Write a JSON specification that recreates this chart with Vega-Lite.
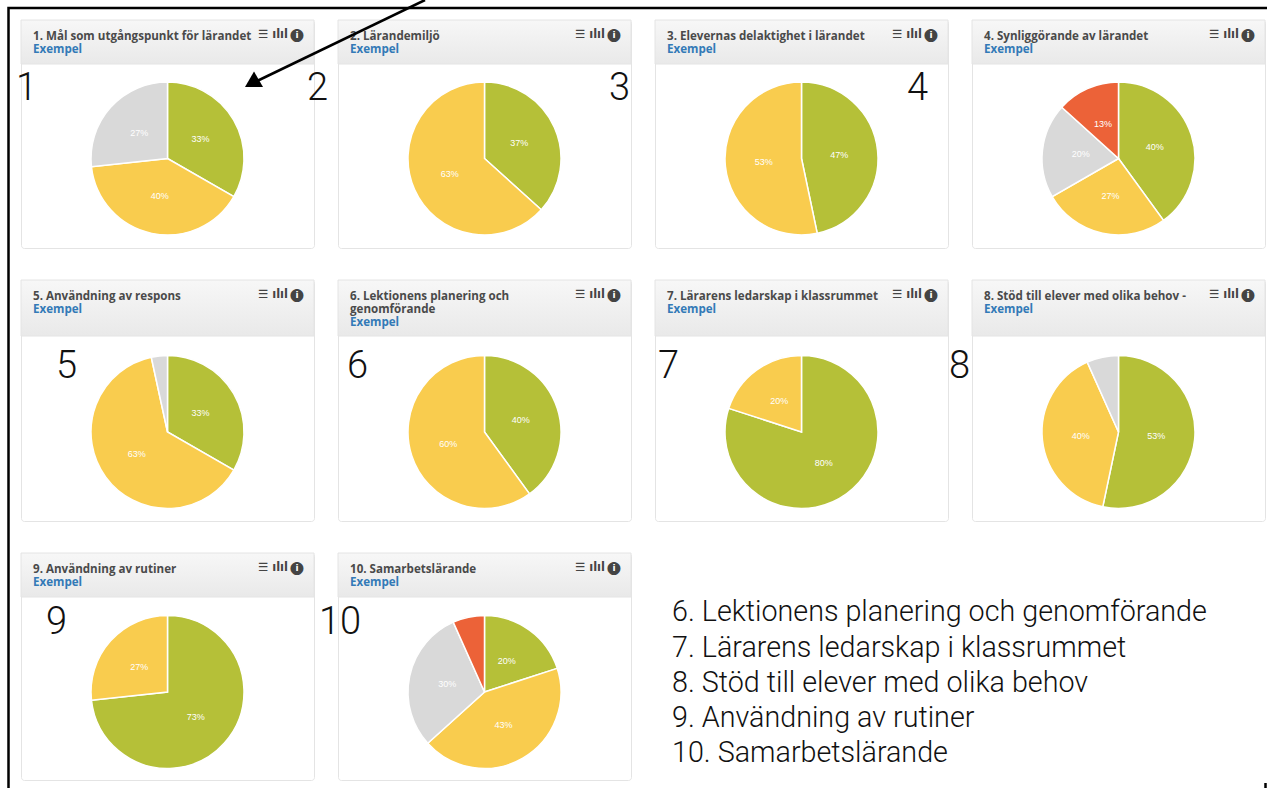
{
"$schema":"https://vega.github.io/schema/vega-lite/v6.json",
"padding":{"left":3,"top":-5,"right":0,"bottom":0},
"background":"white",
"config":{"view":{"stroke":"#e4e4e4","cornerRadius":3,"fill":"white"}},
"datasets":{
"pie":[
{"panel":1,"c":"1-grön","v":33.3,"l":"33%"},{"panel":1,"c":"2-gul","v":40,"l":"40%"},{"panel":1,"c":"3-grå","v":26.7,"l":"27%"},
{"panel":2,"c":"1-grön","v":36.7,"l":"37%"},{"panel":2,"c":"2-gul","v":63.3,"l":"63%"},
{"panel":3,"c":"1-grön","v":46.7,"l":"47%"},{"panel":3,"c":"2-gul","v":53.3,"l":"53%"},
{"panel":4,"c":"1-grön","v":40,"l":"40%"},{"panel":4,"c":"2-gul","v":26.7,"l":"27%"},{"panel":4,"c":"3-grå","v":20,"l":"20%"},{"panel":4,"c":"4-röd","v":13.3,"l":"13%"},
{"panel":5,"c":"1-grön","v":33.3,"l":"33%"},{"panel":5,"c":"2-gul","v":63.3,"l":"63%"},{"panel":5,"c":"3-grå","v":3.4,"l":""},
{"panel":6,"c":"1-grön","v":40,"l":"40%"},{"panel":6,"c":"2-gul","v":60,"l":"60%"},
{"panel":7,"c":"1-grön","v":80,"l":"80%"},{"panel":7,"c":"2-gul","v":20,"l":"20%"},
{"panel":8,"c":"1-grön","v":53.3,"l":"53%"},{"panel":8,"c":"2-gul","v":40,"l":"40%"},{"panel":8,"c":"3-grå","v":6.7,"l":""},
{"panel":9,"c":"1-grön","v":73.3,"l":"73%"},{"panel":9,"c":"2-gul","v":26.7,"l":"27%"},
{"panel":10,"c":"1-grön","v":20,"l":"20%"},{"panel":10,"c":"2-gul","v":43.3,"l":"43%"},{"panel":10,"c":"3-grå","v":30,"l":"30%"},{"panel":10,"c":"4-röd","v":6.7,"l":""}
],
"headers":[
{"panel":1,"line":1.2,"kind":"t","text":"1. Mål som utgångspunkt för lärandet"},{"panel":1,"line":2.2,"kind":"x","text":"Exempel"},
{"panel":2,"line":1.2,"kind":"t","text":"2. Lärandemiljö"},{"panel":2,"line":2.2,"kind":"x","text":"Exempel"},
{"panel":3,"line":1.2,"kind":"t","text":"3. Elevernas delaktighet i lärandet"},{"panel":3,"line":2.2,"kind":"x","text":"Exempel"},
{"panel":4,"line":1.2,"kind":"t","text":"4. Synliggörande av lärandet"},{"panel":4,"line":2.2,"kind":"x","text":"Exempel"},
{"panel":5,"line":1.2,"kind":"t","text":"5. Användning av respons"},{"panel":5,"line":2.2,"kind":"x","text":"Exempel"},
{"panel":6,"line":1.2,"kind":"t","text":"6. Lektionens planering och"},{"panel":6,"line":2.2,"kind":"t","text":"genomförande"},{"panel":6,"line":3.2,"kind":"x","text":"Exempel"},
{"panel":7,"line":1.2,"kind":"t","text":"7. Lärarens ledarskap i klassrummet"},{"panel":7,"line":2.2,"kind":"x","text":"Exempel"},
{"panel":8,"line":1.2,"kind":"t","text":"8. Stöd till elever med olika behov -"},{"panel":8,"line":2.2,"kind":"x","text":"Exempel"},
{"panel":9,"line":1.2,"kind":"t","text":"9. Användning av rutiner"},{"panel":9,"line":2.2,"kind":"x","text":"Exempel"},
{"panel":10,"line":1.2,"kind":"t","text":"10. Samarbetslärande"},{"panel":10,"line":2.2,"kind":"x","text":"Exempel"}
]
},
"columns":4,
"spacing":{"row":32,"column":24},
"bounds":"flush",
"align":"none",
"concat":[
{"width":293,"height":228,"layer":[
{"data":{"values":[{}]},"mark":{"type":"rect","stroke":"#e4e4e4","fill":{"gradient":"linear","x1":0,"y1":0,"x2":0,"y2":1,"stops":[{"offset":0,"color":"#f7f7f7"},{"offset":1,"color":"#e9e9e9"}]}},"encoding":{"x":{"datum":0,"type":"quantitative","scale":{"domain":[0,293]},"axis":null},"x2":{"datum":293},"y":{"datum":-0.077,"type":"quantitative","scale":{"domain":[17.462,-0.077]},"axis":null},"y2":{"datum":3.308}}},
{"data":{"name":"pie"},"transform":[{"filter":"datum.panel==1"}],"encoding":{"theta":{"field":"v","type":"quantitative","stack":true},"order":{"field":"c"},"detail":{"field":"c"},"color":{"field":"c","type":"nominal","scale":{"domain":["1-grön","2-gul","3-grå","4-röd","t","x"],"range":["#b5c038","#f9cc4e","#d9d9d9","#ec6238","#4a4a4a","#337ab7"]},"legend":null},"y":{"datum":10.577,"type":"quantitative","scale":{"domain":[17.462,-0.077]},"axis":null}},"layer":[
{"mark":{"type":"arc","outerRadius":76.5,"stroke":"white","strokeWidth":1.5}},
{"mark":{"type":"text","radius":38,"fontSize":9,"font":"Liberation Sans"},"encoding":{"text":{"field":"l"},"color":{"value":"white"}}}
]},
{"data":{"name":"headers"},"transform":[{"filter":"datum.panel==1"}],"mark":{"type":"text","align":"left","font":"Open Sans","fontWeight":"bold","fontSize":11.6},"encoding":{"x":{"datum":12,"type":"quantitative","scale":{"domain":[0,293]},"axis":null},"y":{"field":"line","type":"quantitative","scale":{"domain":[17.462,-0.077]},"axis":null},"text":{"field":"text"},"color":{"field":"kind","scale":{"domain":["1-grön","2-gul","3-grå","4-röd","t","x"],"range":["#b5c038","#f9cc4e","#d9d9d9","#ec6238","#4a4a4a","#337ab7"]},"legend":null}}},
{"data":{"values":[{"a":"☰ ılıl","b":"●","c":"i"}]},"encoding":{"y":{"datum":1.05,"type":"quantitative","scale":{"domain":[17.462,-0.077]},"axis":null}},"layer":[
{"mark":{"type":"text","align":"right","font":"DejaVu Sans","fontWeight":"bold","fontSize":11.5,"color":"#444444"},"encoding":{"x":{"datum":267,"type":"quantitative","scale":{"domain":[0,293]},"axis":null},"text":{"field":"a"}}},
{"mark":{"type":"text","align":"center","font":"DejaVu Sans","fontSize":17,"color":"#444444"},"encoding":{"x":{"datum":276,"type":"quantitative","scale":{"domain":[0,293]},"axis":null},"text":{"field":"b"}}},
{"mark":{"type":"text","align":"center","font":"DejaVu Sans","fontWeight":"bold","fontSize":9,"color":"white"},"encoding":{"x":{"datum":276,"type":"quantitative","scale":{"domain":[0,293]},"axis":null},"text":{"field":"c"}}}
]},
{"data":{"values":[{"n":"1"}]},"mark":{"type":"text","align":"left","baseline":"alphabetic","font":"Roboto","fontWeight":300,"fontSize":38,"color":"#111"},"encoding":{"text":{"field":"n"},"x":{"datum":-5,"type":"quantitative","scale":{"domain":[0,293]},"axis":null},"y":{"datum":6.077,"type":"quantitative","scale":{"domain":[17.462,-0.077]},"axis":null}}}
]},
{"width":293,"height":228,"layer":[
{"data":{"values":[{}]},"mark":{"type":"rect","stroke":"#e4e4e4","fill":{"gradient":"linear","x1":0,"y1":0,"x2":0,"y2":1,"stops":[{"offset":0,"color":"#f7f7f7"},{"offset":1,"color":"#e9e9e9"}]}},"encoding":{"x":{"datum":0,"type":"quantitative","scale":{"domain":[0,293]},"axis":null},"x2":{"datum":293},"y":{"datum":-0.077,"type":"quantitative","scale":{"domain":[17.462,-0.077]},"axis":null},"y2":{"datum":3.308}}},
{"data":{"name":"pie"},"transform":[{"filter":"datum.panel==2"}],"encoding":{"theta":{"field":"v","type":"quantitative","stack":true},"order":{"field":"c"},"detail":{"field":"c"},"color":{"field":"c","type":"nominal","scale":{"domain":["1-grön","2-gul","3-grå","4-röd","t","x"],"range":["#b5c038","#f9cc4e","#d9d9d9","#ec6238","#4a4a4a","#337ab7"]},"legend":null},"y":{"datum":10.577,"type":"quantitative","scale":{"domain":[17.462,-0.077]},"axis":null}},"layer":[
{"mark":{"type":"arc","outerRadius":76.5,"stroke":"white","strokeWidth":1.5}},
{"mark":{"type":"text","radius":38,"fontSize":9,"font":"Liberation Sans"},"encoding":{"text":{"field":"l"},"color":{"value":"white"}}}
]},
{"data":{"name":"headers"},"transform":[{"filter":"datum.panel==2"}],"mark":{"type":"text","align":"left","font":"Open Sans","fontWeight":"bold","fontSize":11.6},"encoding":{"x":{"datum":12,"type":"quantitative","scale":{"domain":[0,293]},"axis":null},"y":{"field":"line","type":"quantitative","scale":{"domain":[17.462,-0.077]},"axis":null},"text":{"field":"text"},"color":{"field":"kind","scale":{"domain":["1-grön","2-gul","3-grå","4-röd","t","x"],"range":["#b5c038","#f9cc4e","#d9d9d9","#ec6238","#4a4a4a","#337ab7"]},"legend":null}}},
{"data":{"values":[{"a":"☰ ılıl","b":"●","c":"i"}]},"encoding":{"y":{"datum":1.05,"type":"quantitative","scale":{"domain":[17.462,-0.077]},"axis":null}},"layer":[
{"mark":{"type":"text","align":"right","font":"DejaVu Sans","fontWeight":"bold","fontSize":11.5,"color":"#444444"},"encoding":{"x":{"datum":267,"type":"quantitative","scale":{"domain":[0,293]},"axis":null},"text":{"field":"a"}}},
{"mark":{"type":"text","align":"center","font":"DejaVu Sans","fontSize":17,"color":"#444444"},"encoding":{"x":{"datum":276,"type":"quantitative","scale":{"domain":[0,293]},"axis":null},"text":{"field":"b"}}},
{"mark":{"type":"text","align":"center","font":"DejaVu Sans","fontWeight":"bold","fontSize":9,"color":"white"},"encoding":{"x":{"datum":276,"type":"quantitative","scale":{"domain":[0,293]},"axis":null},"text":{"field":"c"}}}
]},
{"data":{"values":[{"n":"2"}]},"mark":{"type":"text","align":"left","baseline":"alphabetic","font":"Roboto","fontWeight":300,"fontSize":38,"color":"#111"},"encoding":{"text":{"field":"n"},"x":{"datum":-31,"type":"quantitative","scale":{"domain":[0,293]},"axis":null},"y":{"datum":6.077,"type":"quantitative","scale":{"domain":[17.462,-0.077]},"axis":null}}}
]},
{"width":293,"height":228,"layer":[
{"data":{"values":[{}]},"mark":{"type":"rect","stroke":"#e4e4e4","fill":{"gradient":"linear","x1":0,"y1":0,"x2":0,"y2":1,"stops":[{"offset":0,"color":"#f7f7f7"},{"offset":1,"color":"#e9e9e9"}]}},"encoding":{"x":{"datum":0,"type":"quantitative","scale":{"domain":[0,293]},"axis":null},"x2":{"datum":293},"y":{"datum":-0.077,"type":"quantitative","scale":{"domain":[17.462,-0.077]},"axis":null},"y2":{"datum":3.308}}},
{"data":{"name":"pie"},"transform":[{"filter":"datum.panel==3"}],"encoding":{"theta":{"field":"v","type":"quantitative","stack":true},"order":{"field":"c"},"detail":{"field":"c"},"color":{"field":"c","type":"nominal","scale":{"domain":["1-grön","2-gul","3-grå","4-röd","t","x"],"range":["#b5c038","#f9cc4e","#d9d9d9","#ec6238","#4a4a4a","#337ab7"]},"legend":null},"y":{"datum":10.577,"type":"quantitative","scale":{"domain":[17.462,-0.077]},"axis":null}},"layer":[
{"mark":{"type":"arc","outerRadius":76.5,"stroke":"white","strokeWidth":1.5}},
{"mark":{"type":"text","radius":38,"fontSize":9,"font":"Liberation Sans"},"encoding":{"text":{"field":"l"},"color":{"value":"white"}}}
]},
{"data":{"name":"headers"},"transform":[{"filter":"datum.panel==3"}],"mark":{"type":"text","align":"left","font":"Open Sans","fontWeight":"bold","fontSize":11.6},"encoding":{"x":{"datum":12,"type":"quantitative","scale":{"domain":[0,293]},"axis":null},"y":{"field":"line","type":"quantitative","scale":{"domain":[17.462,-0.077]},"axis":null},"text":{"field":"text"},"color":{"field":"kind","scale":{"domain":["1-grön","2-gul","3-grå","4-röd","t","x"],"range":["#b5c038","#f9cc4e","#d9d9d9","#ec6238","#4a4a4a","#337ab7"]},"legend":null}}},
{"data":{"values":[{"a":"☰ ılıl","b":"●","c":"i"}]},"encoding":{"y":{"datum":1.05,"type":"quantitative","scale":{"domain":[17.462,-0.077]},"axis":null}},"layer":[
{"mark":{"type":"text","align":"right","font":"DejaVu Sans","fontWeight":"bold","fontSize":11.5,"color":"#444444"},"encoding":{"x":{"datum":267,"type":"quantitative","scale":{"domain":[0,293]},"axis":null},"text":{"field":"a"}}},
{"mark":{"type":"text","align":"center","font":"DejaVu Sans","fontSize":17,"color":"#444444"},"encoding":{"x":{"datum":276,"type":"quantitative","scale":{"domain":[0,293]},"axis":null},"text":{"field":"b"}}},
{"mark":{"type":"text","align":"center","font":"DejaVu Sans","fontWeight":"bold","fontSize":9,"color":"white"},"encoding":{"x":{"datum":276,"type":"quantitative","scale":{"domain":[0,293]},"axis":null},"text":{"field":"c"}}}
]},
{"data":{"values":[{"n":"3"}]},"mark":{"type":"text","align":"left","baseline":"alphabetic","font":"Roboto","fontWeight":300,"fontSize":38,"color":"#111"},"encoding":{"text":{"field":"n"},"x":{"datum":-46,"type":"quantitative","scale":{"domain":[0,293]},"axis":null},"y":{"datum":6.077,"type":"quantitative","scale":{"domain":[17.462,-0.077]},"axis":null}}}
]},
{"width":293,"height":228,"layer":[
{"data":{"values":[{}]},"mark":{"type":"rect","stroke":"#e4e4e4","fill":{"gradient":"linear","x1":0,"y1":0,"x2":0,"y2":1,"stops":[{"offset":0,"color":"#f7f7f7"},{"offset":1,"color":"#e9e9e9"}]}},"encoding":{"x":{"datum":0,"type":"quantitative","scale":{"domain":[0,293]},"axis":null},"x2":{"datum":293},"y":{"datum":-0.077,"type":"quantitative","scale":{"domain":[17.462,-0.077]},"axis":null},"y2":{"datum":3.308}}},
{"data":{"name":"pie"},"transform":[{"filter":"datum.panel==4"}],"encoding":{"theta":{"field":"v","type":"quantitative","stack":true},"order":{"field":"c"},"detail":{"field":"c"},"color":{"field":"c","type":"nominal","scale":{"domain":["1-grön","2-gul","3-grå","4-röd","t","x"],"range":["#b5c038","#f9cc4e","#d9d9d9","#ec6238","#4a4a4a","#337ab7"]},"legend":null},"y":{"datum":10.577,"type":"quantitative","scale":{"domain":[17.462,-0.077]},"axis":null}},"layer":[
{"mark":{"type":"arc","outerRadius":76.5,"stroke":"white","strokeWidth":1.5}},
{"mark":{"type":"text","radius":38,"fontSize":9,"font":"Liberation Sans"},"encoding":{"text":{"field":"l"},"color":{"value":"white"}}}
]},
{"data":{"name":"headers"},"transform":[{"filter":"datum.panel==4"}],"mark":{"type":"text","align":"left","font":"Open Sans","fontWeight":"bold","fontSize":11.6},"encoding":{"x":{"datum":12,"type":"quantitative","scale":{"domain":[0,293]},"axis":null},"y":{"field":"line","type":"quantitative","scale":{"domain":[17.462,-0.077]},"axis":null},"text":{"field":"text"},"color":{"field":"kind","scale":{"domain":["1-grön","2-gul","3-grå","4-röd","t","x"],"range":["#b5c038","#f9cc4e","#d9d9d9","#ec6238","#4a4a4a","#337ab7"]},"legend":null}}},
{"data":{"values":[{"a":"☰ ılıl","b":"●","c":"i"}]},"encoding":{"y":{"datum":1.05,"type":"quantitative","scale":{"domain":[17.462,-0.077]},"axis":null}},"layer":[
{"mark":{"type":"text","align":"right","font":"DejaVu Sans","fontWeight":"bold","fontSize":11.5,"color":"#444444"},"encoding":{"x":{"datum":267,"type":"quantitative","scale":{"domain":[0,293]},"axis":null},"text":{"field":"a"}}},
{"mark":{"type":"text","align":"center","font":"DejaVu Sans","fontSize":17,"color":"#444444"},"encoding":{"x":{"datum":276,"type":"quantitative","scale":{"domain":[0,293]},"axis":null},"text":{"field":"b"}}},
{"mark":{"type":"text","align":"center","font":"DejaVu Sans","fontWeight":"bold","fontSize":9,"color":"white"},"encoding":{"x":{"datum":276,"type":"quantitative","scale":{"domain":[0,293]},"axis":null},"text":{"field":"c"}}}
]},
{"data":{"values":[{"n":"4"}]},"mark":{"type":"text","align":"left","baseline":"alphabetic","font":"Roboto","fontWeight":300,"fontSize":38,"color":"#111"},"encoding":{"text":{"field":"n"},"x":{"datum":-65,"type":"quantitative","scale":{"domain":[0,293]},"axis":null},"y":{"datum":6.077,"type":"quantitative","scale":{"domain":[17.462,-0.077]},"axis":null}}}
]},
{"width":293,"height":241,"layer":[
{"data":{"values":[{}]},"mark":{"type":"rect","stroke":"#e4e4e4","fill":{"gradient":"linear","x1":0,"y1":0,"x2":0,"y2":1,"stops":[{"offset":0,"color":"#f7f7f7"},{"offset":1,"color":"#e9e9e9"}]}},"encoding":{"x":{"datum":0,"type":"quantitative","scale":{"domain":[0,293]},"axis":null},"x2":{"datum":293},"y":{"datum":-0.077,"type":"quantitative","scale":{"domain":[18.462,-0.077]},"axis":null},"y2":{"datum":4.231}}},
{"data":{"name":"pie"},"transform":[{"filter":"datum.panel==5"}],"encoding":{"theta":{"field":"v","type":"quantitative","stack":true},"order":{"field":"c"},"detail":{"field":"c"},"color":{"field":"c","type":"nominal","scale":{"domain":["1-grön","2-gul","3-grå","4-röd","t","x"],"range":["#b5c038","#f9cc4e","#d9d9d9","#ec6238","#4a4a4a","#337ab7"]},"legend":null},"y":{"datum":11.615,"type":"quantitative","scale":{"domain":[18.462,-0.077]},"axis":null}},"layer":[
{"mark":{"type":"arc","outerRadius":76.5,"stroke":"white","strokeWidth":1.5}},
{"mark":{"type":"text","radius":38,"fontSize":9,"font":"Liberation Sans"},"encoding":{"text":{"field":"l"},"color":{"value":"white"}}}
]},
{"data":{"name":"headers"},"transform":[{"filter":"datum.panel==5"}],"mark":{"type":"text","align":"left","font":"Open Sans","fontWeight":"bold","fontSize":11.6},"encoding":{"x":{"datum":12,"type":"quantitative","scale":{"domain":[0,293]},"axis":null},"y":{"field":"line","type":"quantitative","scale":{"domain":[18.462,-0.077]},"axis":null},"text":{"field":"text"},"color":{"field":"kind","scale":{"domain":["1-grön","2-gul","3-grå","4-röd","t","x"],"range":["#b5c038","#f9cc4e","#d9d9d9","#ec6238","#4a4a4a","#337ab7"]},"legend":null}}},
{"data":{"values":[{"a":"☰ ılıl","b":"●","c":"i"}]},"encoding":{"y":{"datum":1.05,"type":"quantitative","scale":{"domain":[18.462,-0.077]},"axis":null}},"layer":[
{"mark":{"type":"text","align":"right","font":"DejaVu Sans","fontWeight":"bold","fontSize":11.5,"color":"#444444"},"encoding":{"x":{"datum":267,"type":"quantitative","scale":{"domain":[0,293]},"axis":null},"text":{"field":"a"}}},
{"mark":{"type":"text","align":"center","font":"DejaVu Sans","fontSize":17,"color":"#444444"},"encoding":{"x":{"datum":276,"type":"quantitative","scale":{"domain":[0,293]},"axis":null},"text":{"field":"b"}}},
{"mark":{"type":"text","align":"center","font":"DejaVu Sans","fontWeight":"bold","fontSize":9,"color":"white"},"encoding":{"x":{"datum":276,"type":"quantitative","scale":{"domain":[0,293]},"axis":null},"text":{"field":"c"}}}
]},
{"data":{"values":[{"n":"5"}]},"mark":{"type":"text","align":"left","baseline":"alphabetic","font":"Roboto","fontWeight":300,"fontSize":38,"color":"#111"},"encoding":{"text":{"field":"n"},"x":{"datum":35,"type":"quantitative","scale":{"domain":[0,293]},"axis":null},"y":{"datum":7.462,"type":"quantitative","scale":{"domain":[18.462,-0.077]},"axis":null}}}
]},
{"width":293,"height":241,"layer":[
{"data":{"values":[{}]},"mark":{"type":"rect","stroke":"#e4e4e4","fill":{"gradient":"linear","x1":0,"y1":0,"x2":0,"y2":1,"stops":[{"offset":0,"color":"#f7f7f7"},{"offset":1,"color":"#e9e9e9"}]}},"encoding":{"x":{"datum":0,"type":"quantitative","scale":{"domain":[0,293]},"axis":null},"x2":{"datum":293},"y":{"datum":-0.077,"type":"quantitative","scale":{"domain":[18.462,-0.077]},"axis":null},"y2":{"datum":4.231}}},
{"data":{"name":"pie"},"transform":[{"filter":"datum.panel==6"}],"encoding":{"theta":{"field":"v","type":"quantitative","stack":true},"order":{"field":"c"},"detail":{"field":"c"},"color":{"field":"c","type":"nominal","scale":{"domain":["1-grön","2-gul","3-grå","4-röd","t","x"],"range":["#b5c038","#f9cc4e","#d9d9d9","#ec6238","#4a4a4a","#337ab7"]},"legend":null},"y":{"datum":11.615,"type":"quantitative","scale":{"domain":[18.462,-0.077]},"axis":null}},"layer":[
{"mark":{"type":"arc","outerRadius":76.5,"stroke":"white","strokeWidth":1.5}},
{"mark":{"type":"text","radius":38,"fontSize":9,"font":"Liberation Sans"},"encoding":{"text":{"field":"l"},"color":{"value":"white"}}}
]},
{"data":{"name":"headers"},"transform":[{"filter":"datum.panel==6"}],"mark":{"type":"text","align":"left","font":"Open Sans","fontWeight":"bold","fontSize":11.6},"encoding":{"x":{"datum":12,"type":"quantitative","scale":{"domain":[0,293]},"axis":null},"y":{"field":"line","type":"quantitative","scale":{"domain":[18.462,-0.077]},"axis":null},"text":{"field":"text"},"color":{"field":"kind","scale":{"domain":["1-grön","2-gul","3-grå","4-röd","t","x"],"range":["#b5c038","#f9cc4e","#d9d9d9","#ec6238","#4a4a4a","#337ab7"]},"legend":null}}},
{"data":{"values":[{"a":"☰ ılıl","b":"●","c":"i"}]},"encoding":{"y":{"datum":1.05,"type":"quantitative","scale":{"domain":[18.462,-0.077]},"axis":null}},"layer":[
{"mark":{"type":"text","align":"right","font":"DejaVu Sans","fontWeight":"bold","fontSize":11.5,"color":"#444444"},"encoding":{"x":{"datum":267,"type":"quantitative","scale":{"domain":[0,293]},"axis":null},"text":{"field":"a"}}},
{"mark":{"type":"text","align":"center","font":"DejaVu Sans","fontSize":17,"color":"#444444"},"encoding":{"x":{"datum":276,"type":"quantitative","scale":{"domain":[0,293]},"axis":null},"text":{"field":"b"}}},
{"mark":{"type":"text","align":"center","font":"DejaVu Sans","fontWeight":"bold","fontSize":9,"color":"white"},"encoding":{"x":{"datum":276,"type":"quantitative","scale":{"domain":[0,293]},"axis":null},"text":{"field":"c"}}}
]},
{"data":{"values":[{"n":"6"}]},"mark":{"type":"text","align":"left","baseline":"alphabetic","font":"Roboto","fontWeight":300,"fontSize":38,"color":"#111"},"encoding":{"text":{"field":"n"},"x":{"datum":9,"type":"quantitative","scale":{"domain":[0,293]},"axis":null},"y":{"datum":7.462,"type":"quantitative","scale":{"domain":[18.462,-0.077]},"axis":null}}}
]},
{"width":293,"height":241,"layer":[
{"data":{"values":[{}]},"mark":{"type":"rect","stroke":"#e4e4e4","fill":{"gradient":"linear","x1":0,"y1":0,"x2":0,"y2":1,"stops":[{"offset":0,"color":"#f7f7f7"},{"offset":1,"color":"#e9e9e9"}]}},"encoding":{"x":{"datum":0,"type":"quantitative","scale":{"domain":[0,293]},"axis":null},"x2":{"datum":293},"y":{"datum":-0.077,"type":"quantitative","scale":{"domain":[18.462,-0.077]},"axis":null},"y2":{"datum":4.231}}},
{"data":{"name":"pie"},"transform":[{"filter":"datum.panel==7"}],"encoding":{"theta":{"field":"v","type":"quantitative","stack":true},"order":{"field":"c"},"detail":{"field":"c"},"color":{"field":"c","type":"nominal","scale":{"domain":["1-grön","2-gul","3-grå","4-röd","t","x"],"range":["#b5c038","#f9cc4e","#d9d9d9","#ec6238","#4a4a4a","#337ab7"]},"legend":null},"y":{"datum":11.615,"type":"quantitative","scale":{"domain":[18.462,-0.077]},"axis":null}},"layer":[
{"mark":{"type":"arc","outerRadius":76.5,"stroke":"white","strokeWidth":1.5}},
{"mark":{"type":"text","radius":38,"fontSize":9,"font":"Liberation Sans"},"encoding":{"text":{"field":"l"},"color":{"value":"white"}}}
]},
{"data":{"name":"headers"},"transform":[{"filter":"datum.panel==7"}],"mark":{"type":"text","align":"left","font":"Open Sans","fontWeight":"bold","fontSize":11.6},"encoding":{"x":{"datum":12,"type":"quantitative","scale":{"domain":[0,293]},"axis":null},"y":{"field":"line","type":"quantitative","scale":{"domain":[18.462,-0.077]},"axis":null},"text":{"field":"text"},"color":{"field":"kind","scale":{"domain":["1-grön","2-gul","3-grå","4-röd","t","x"],"range":["#b5c038","#f9cc4e","#d9d9d9","#ec6238","#4a4a4a","#337ab7"]},"legend":null}}},
{"data":{"values":[{"a":"☰ ılıl","b":"●","c":"i"}]},"encoding":{"y":{"datum":1.05,"type":"quantitative","scale":{"domain":[18.462,-0.077]},"axis":null}},"layer":[
{"mark":{"type":"text","align":"right","font":"DejaVu Sans","fontWeight":"bold","fontSize":11.5,"color":"#444444"},"encoding":{"x":{"datum":267,"type":"quantitative","scale":{"domain":[0,293]},"axis":null},"text":{"field":"a"}}},
{"mark":{"type":"text","align":"center","font":"DejaVu Sans","fontSize":17,"color":"#444444"},"encoding":{"x":{"datum":276,"type":"quantitative","scale":{"domain":[0,293]},"axis":null},"text":{"field":"b"}}},
{"mark":{"type":"text","align":"center","font":"DejaVu Sans","fontWeight":"bold","fontSize":9,"color":"white"},"encoding":{"x":{"datum":276,"type":"quantitative","scale":{"domain":[0,293]},"axis":null},"text":{"field":"c"}}}
]},
{"data":{"values":[{"n":"7"}]},"mark":{"type":"text","align":"left","baseline":"alphabetic","font":"Roboto","fontWeight":300,"fontSize":38,"color":"#111"},"encoding":{"text":{"field":"n"},"x":{"datum":3,"type":"quantitative","scale":{"domain":[0,293]},"axis":null},"y":{"datum":7.462,"type":"quantitative","scale":{"domain":[18.462,-0.077]},"axis":null}}}
]},
{"width":293,"height":241,"layer":[
{"data":{"values":[{}]},"mark":{"type":"rect","stroke":"#e4e4e4","fill":{"gradient":"linear","x1":0,"y1":0,"x2":0,"y2":1,"stops":[{"offset":0,"color":"#f7f7f7"},{"offset":1,"color":"#e9e9e9"}]}},"encoding":{"x":{"datum":0,"type":"quantitative","scale":{"domain":[0,293]},"axis":null},"x2":{"datum":293},"y":{"datum":-0.077,"type":"quantitative","scale":{"domain":[18.462,-0.077]},"axis":null},"y2":{"datum":4.231}}},
{"data":{"name":"pie"},"transform":[{"filter":"datum.panel==8"}],"encoding":{"theta":{"field":"v","type":"quantitative","stack":true},"order":{"field":"c"},"detail":{"field":"c"},"color":{"field":"c","type":"nominal","scale":{"domain":["1-grön","2-gul","3-grå","4-röd","t","x"],"range":["#b5c038","#f9cc4e","#d9d9d9","#ec6238","#4a4a4a","#337ab7"]},"legend":null},"y":{"datum":11.615,"type":"quantitative","scale":{"domain":[18.462,-0.077]},"axis":null}},"layer":[
{"mark":{"type":"arc","outerRadius":76.5,"stroke":"white","strokeWidth":1.5}},
{"mark":{"type":"text","radius":38,"fontSize":9,"font":"Liberation Sans"},"encoding":{"text":{"field":"l"},"color":{"value":"white"}}}
]},
{"data":{"name":"headers"},"transform":[{"filter":"datum.panel==8"}],"mark":{"type":"text","align":"left","font":"Open Sans","fontWeight":"bold","fontSize":11.6},"encoding":{"x":{"datum":12,"type":"quantitative","scale":{"domain":[0,293]},"axis":null},"y":{"field":"line","type":"quantitative","scale":{"domain":[18.462,-0.077]},"axis":null},"text":{"field":"text"},"color":{"field":"kind","scale":{"domain":["1-grön","2-gul","3-grå","4-röd","t","x"],"range":["#b5c038","#f9cc4e","#d9d9d9","#ec6238","#4a4a4a","#337ab7"]},"legend":null}}},
{"data":{"values":[{"a":"☰ ılıl","b":"●","c":"i"}]},"encoding":{"y":{"datum":1.05,"type":"quantitative","scale":{"domain":[18.462,-0.077]},"axis":null}},"layer":[
{"mark":{"type":"text","align":"right","font":"DejaVu Sans","fontWeight":"bold","fontSize":11.5,"color":"#444444"},"encoding":{"x":{"datum":267,"type":"quantitative","scale":{"domain":[0,293]},"axis":null},"text":{"field":"a"}}},
{"mark":{"type":"text","align":"center","font":"DejaVu Sans","fontSize":17,"color":"#444444"},"encoding":{"x":{"datum":276,"type":"quantitative","scale":{"domain":[0,293]},"axis":null},"text":{"field":"b"}}},
{"mark":{"type":"text","align":"center","font":"DejaVu Sans","fontWeight":"bold","fontSize":9,"color":"white"},"encoding":{"x":{"datum":276,"type":"quantitative","scale":{"domain":[0,293]},"axis":null},"text":{"field":"c"}}}
]},
{"data":{"values":[{"n":"8"}]},"mark":{"type":"text","align":"left","baseline":"alphabetic","font":"Roboto","fontWeight":300,"fontSize":38,"color":"#111"},"encoding":{"text":{"field":"n"},"x":{"datum":-23,"type":"quantitative","scale":{"domain":[0,293]},"axis":null},"y":{"datum":7.462,"type":"quantitative","scale":{"domain":[18.462,-0.077]},"axis":null}}}
]},
{"width":293,"height":227,"layer":[
{"data":{"values":[{}]},"mark":{"type":"rect","stroke":"#e4e4e4","fill":{"gradient":"linear","x1":0,"y1":0,"x2":0,"y2":1,"stops":[{"offset":0,"color":"#f7f7f7"},{"offset":1,"color":"#e9e9e9"}]}},"encoding":{"x":{"datum":0,"type":"quantitative","scale":{"domain":[0,293]},"axis":null},"x2":{"datum":293},"y":{"datum":-0.077,"type":"quantitative","scale":{"domain":[17.385,-0.077]},"axis":null},"y2":{"datum":3.308}}},
{"data":{"name":"pie"},"transform":[{"filter":"datum.panel==9"}],"encoding":{"theta":{"field":"v","type":"quantitative","stack":true},"order":{"field":"c"},"detail":{"field":"c"},"color":{"field":"c","type":"nominal","scale":{"domain":["1-grön","2-gul","3-grå","4-röd","t","x"],"range":["#b5c038","#f9cc4e","#d9d9d9","#ec6238","#4a4a4a","#337ab7"]},"legend":null},"y":{"datum":10.615,"type":"quantitative","scale":{"domain":[17.385,-0.077]},"axis":null}},"layer":[
{"mark":{"type":"arc","outerRadius":76.5,"stroke":"white","strokeWidth":1.5}},
{"mark":{"type":"text","radius":38,"fontSize":9,"font":"Liberation Sans"},"encoding":{"text":{"field":"l"},"color":{"value":"white"}}}
]},
{"data":{"name":"headers"},"transform":[{"filter":"datum.panel==9"}],"mark":{"type":"text","align":"left","font":"Open Sans","fontWeight":"bold","fontSize":11.6},"encoding":{"x":{"datum":12,"type":"quantitative","scale":{"domain":[0,293]},"axis":null},"y":{"field":"line","type":"quantitative","scale":{"domain":[17.385,-0.077]},"axis":null},"text":{"field":"text"},"color":{"field":"kind","scale":{"domain":["1-grön","2-gul","3-grå","4-röd","t","x"],"range":["#b5c038","#f9cc4e","#d9d9d9","#ec6238","#4a4a4a","#337ab7"]},"legend":null}}},
{"data":{"values":[{"a":"☰ ılıl","b":"●","c":"i"}]},"encoding":{"y":{"datum":1.05,"type":"quantitative","scale":{"domain":[17.385,-0.077]},"axis":null}},"layer":[
{"mark":{"type":"text","align":"right","font":"DejaVu Sans","fontWeight":"bold","fontSize":11.5,"color":"#444444"},"encoding":{"x":{"datum":267,"type":"quantitative","scale":{"domain":[0,293]},"axis":null},"text":{"field":"a"}}},
{"mark":{"type":"text","align":"center","font":"DejaVu Sans","fontSize":17,"color":"#444444"},"encoding":{"x":{"datum":276,"type":"quantitative","scale":{"domain":[0,293]},"axis":null},"text":{"field":"b"}}},
{"mark":{"type":"text","align":"center","font":"DejaVu Sans","fontWeight":"bold","fontSize":9,"color":"white"},"encoding":{"x":{"datum":276,"type":"quantitative","scale":{"domain":[0,293]},"axis":null},"text":{"field":"c"}}}
]},
{"data":{"values":[{"n":"9"}]},"mark":{"type":"text","align":"left","baseline":"alphabetic","font":"Roboto","fontWeight":300,"fontSize":38,"color":"#111"},"encoding":{"text":{"field":"n"},"x":{"datum":25,"type":"quantitative","scale":{"domain":[0,293]},"axis":null},"y":{"datum":6.154,"type":"quantitative","scale":{"domain":[17.385,-0.077]},"axis":null}}}
]},
{"width":293,"height":227,"layer":[
{"data":{"values":[{}]},"mark":{"type":"rect","stroke":"#e4e4e4","fill":{"gradient":"linear","x1":0,"y1":0,"x2":0,"y2":1,"stops":[{"offset":0,"color":"#f7f7f7"},{"offset":1,"color":"#e9e9e9"}]}},"encoding":{"x":{"datum":0,"type":"quantitative","scale":{"domain":[0,293]},"axis":null},"x2":{"datum":293},"y":{"datum":-0.077,"type":"quantitative","scale":{"domain":[17.385,-0.077]},"axis":null},"y2":{"datum":3.308}}},
{"data":{"name":"pie"},"transform":[{"filter":"datum.panel==10"}],"encoding":{"theta":{"field":"v","type":"quantitative","stack":true},"order":{"field":"c"},"detail":{"field":"c"},"color":{"field":"c","type":"nominal","scale":{"domain":["1-grön","2-gul","3-grå","4-röd","t","x"],"range":["#b5c038","#f9cc4e","#d9d9d9","#ec6238","#4a4a4a","#337ab7"]},"legend":null},"y":{"datum":10.615,"type":"quantitative","scale":{"domain":[17.385,-0.077]},"axis":null}},"layer":[
{"mark":{"type":"arc","outerRadius":76.5,"stroke":"white","strokeWidth":1.5}},
{"mark":{"type":"text","radius":38,"fontSize":9,"font":"Liberation Sans"},"encoding":{"text":{"field":"l"},"color":{"value":"white"}}}
]},
{"data":{"name":"headers"},"transform":[{"filter":"datum.panel==10"}],"mark":{"type":"text","align":"left","font":"Open Sans","fontWeight":"bold","fontSize":11.6},"encoding":{"x":{"datum":12,"type":"quantitative","scale":{"domain":[0,293]},"axis":null},"y":{"field":"line","type":"quantitative","scale":{"domain":[17.385,-0.077]},"axis":null},"text":{"field":"text"},"color":{"field":"kind","scale":{"domain":["1-grön","2-gul","3-grå","4-röd","t","x"],"range":["#b5c038","#f9cc4e","#d9d9d9","#ec6238","#4a4a4a","#337ab7"]},"legend":null}}},
{"data":{"values":[{"a":"☰ ılıl","b":"●","c":"i"}]},"encoding":{"y":{"datum":1.05,"type":"quantitative","scale":{"domain":[17.385,-0.077]},"axis":null}},"layer":[
{"mark":{"type":"text","align":"right","font":"DejaVu Sans","fontWeight":"bold","fontSize":11.5,"color":"#444444"},"encoding":{"x":{"datum":267,"type":"quantitative","scale":{"domain":[0,293]},"axis":null},"text":{"field":"a"}}},
{"mark":{"type":"text","align":"center","font":"DejaVu Sans","fontSize":17,"color":"#444444"},"encoding":{"x":{"datum":276,"type":"quantitative","scale":{"domain":[0,293]},"axis":null},"text":{"field":"b"}}},
{"mark":{"type":"text","align":"center","font":"DejaVu Sans","fontWeight":"bold","fontSize":9,"color":"white"},"encoding":{"x":{"datum":276,"type":"quantitative","scale":{"domain":[0,293]},"axis":null},"text":{"field":"c"}}}
]},
{"data":{"values":[{"n":"10"}]},"mark":{"type":"text","align":"left","baseline":"alphabetic","font":"Roboto","fontWeight":300,"fontSize":38,"color":"#111"},"encoding":{"text":{"field":"n"},"x":{"datum":-19,"type":"quantitative","scale":{"domain":[0,293]},"axis":null},"y":{"datum":6.154,"type":"quantitative","scale":{"domain":[17.385,-0.077]},"axis":null}}}
]},
{"width":293,"height":227,"view":{"fill":null,"stroke":null},"layer":[
{"data":{"values":[
{"text":"6. Lektionens planering och genomförande","x":672,"y":621},
{"text":"7. Lärarens ledarskap i klassrummet","x":672,"y":657},
{"text":"8. Stöd till elever med olika behov","x":672,"y":692},
{"text":"9. Användning av rutiner","x":672,"y":727},
{"text":"10. Samarbetslärande","x":672,"y":762}
]},"mark":{"type":"text","align":"left","baseline":"alphabetic","font":"Roboto","fontWeight":300,"fontSize":28.7,"color":"#111"},"encoding":{"x":{"field":"x","type":"quantitative","scale":{"domain":[655,948]},"axis":null},"y":{"field":"y","type":"quantitative","scale":{"domain":[780,553]},"axis":null},"text":{"field":"text"}}},
{"data":{"values":[
{"g":"frame","s":1,"x":8.5,"y":788},{"g":"frame","s":2,"x":8.5,"y":8},{"g":"frame","s":3,"x":1267,"y":8},
{"g":"arrow","s":1,"x":425,"y":0},{"g":"arrow","s":2,"x":255,"y":82},
{"g":"tick","s":1,"x":1265.5,"y":783},{"g":"tick","s":2,"x":1265.5,"y":788}
]},"mark":{"type":"line","color":"black","strokeWidth":2.5,"strokeCap":"butt","strokeJoin":"miter"},"encoding":{"x":{"field":"x","type":"quantitative","scale":{"domain":[655,948]},"axis":null},"y":{"field":"y","type":"quantitative","scale":{"domain":[780,553]},"axis":null},"detail":{"field":"g"},"order":{"field":"s"}}},
{"data":{"values":[{"x":254,"y":79.2}]},"mark":{"type":"point","shape":"triangle-up","filled":true,"color":"black","opacity":1,"size":324},"encoding":{"x":{"field":"x","type":"quantitative","scale":{"domain":[655,948]},"axis":null},"y":{"field":"y","type":"quantitative","scale":{"domain":[780,553]},"axis":null}}}
]}
]
}
